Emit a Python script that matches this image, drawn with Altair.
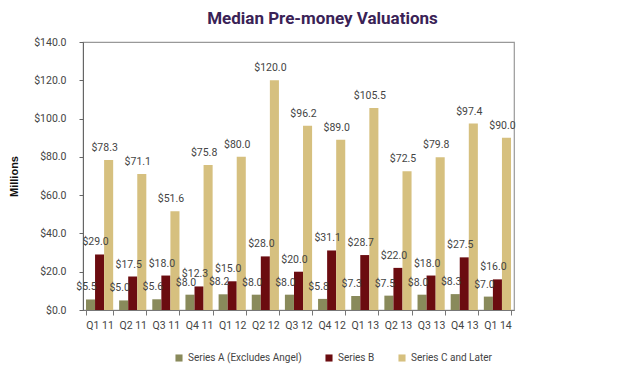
import altair as alt
import pandas as pd

quarters = ["Q1 11", "Q2 11", "Q3 11", "Q4 11", "Q1 12", "Q2 12", "Q3 12",
            "Q4 12", "Q1 13", "Q2 13", "Q3 13", "Q4 13", "Q1 14"]
series_names = ["Series A (Excludes Angel)", "Series B", "Series C and Later"]
series_a = [5.5, 5.0, 5.6, 8.0, 8.2, 8.0, 8.0, 5.8, 7.3, 7.5, 8.0, 8.3, 7.0]
series_b = [29.0, 17.5, 18.0, 12.3, 15.0, 28.0, 20.0, 31.1, 28.7, 22.0, 18.0, 27.5, 16.0]
series_c = [78.3, 71.1, 51.6, 75.8, 80.0, 120.0, 96.2, 89.0, 105.5, 72.5, 79.8, 97.4, 90.0]
colors = ["#898A5B", "#6B0C10", "#D6C07F"]

rows = []
for name, vals in zip(series_names, [series_a, series_b, series_c]):
    for q, v in zip(quarters, vals):
        rows.append({"quarter": q, "series": name, "value": v})
df = pd.DataFrame(rows)

FONT = "Roboto, Liberation Sans, sans-serif"
FS = 10.5

x = alt.X("quarter:N", sort=quarters, title=None,
          scale=alt.Scale(paddingInner=0.18, paddingOuter=0.09),
          axis=alt.Axis(labelAngle=0, labelFont=FONT, labelFontSize=FS,
                        labelColor="#444444", domainColor="#777777",
                        tickColor="#777777", tickBand="extent", tickSize=5,
                        labelPadding=5))
xo = alt.XOffset("series:N", sort=series_names, scale=alt.Scale(paddingInner=0))
y = alt.Y("value:Q", title="Millions",
          scale=alt.Scale(domain=[0, 140]),
          axis=alt.Axis(values=list(range(0, 141, 20)), format="$.1f",
                        labelFont=FONT, labelFontSize=FS, labelColor="#444444",
                        domainColor="#666666", tickColor="#666666", tickSize=4,
                        labelPadding=13, grid=False,
                        titleFont="Liberation Sans, Arial, sans-serif",
                        titleFontSize=11, titleFontWeight="bold",
                        titleColor="#111111", titlePadding=14))
color = alt.Color("series:N", sort=series_names,
                  scale=alt.Scale(domain=series_names, range=colors),
                  legend=alt.Legend(orient="none", legendX=91, legendY=311,
                                    direction="horizontal",
                                    title=None, symbolType="square",
                                    symbolSize=50, symbolStrokeWidth=0,
                                    labelFont=FONT, labelFontSize=10,
                                    labelColor="#444444", columnPadding=22))

bars = alt.Chart(df).mark_bar().encode(x=x, xOffset=xo, y=y, color=color)
labels = alt.Chart(df).mark_text(baseline="bottom", dy=-7, dx=-4,
                                 font=FONT, fontSize=FS, color="#444444").encode(
    x=x, xOffset=xo, y=y, text=alt.Text("value:Q", format="$.1f"))

chart = (bars + labels).properties(
    width=431, height=268,
    padding={"left": 0, "top": 2, "right": 5, "bottom": 5},
    title=alt.TitleParams("Median Pre-money Valuations", font="Roboto, sans-serif",
                          fontSize=17, fontWeight="bold", color="#3A2256",
                          anchor="middle", dx=24, offset=9),
).configure_view(stroke="#999999", strokeWidth=1.2)

chart.save("out.html", embed_options={"renderer": "svg", "actions": False})
